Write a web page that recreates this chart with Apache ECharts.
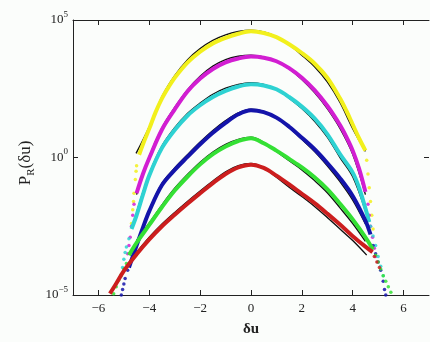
<!DOCTYPE html>
<html>
<head>
<meta charset="utf-8">
<script src="https://cdn.jsdelivr.net/npm/echarts@6/dist/echarts.min.js"></script>
<style>
html,body{margin:0;padding:0;background:#fbfdfb;}
#c{width:430px;height:342px;}
</style>
</head>
<body>
<div id="c"></div>
<script>
// x positions / tick labels
const xTicks = [-6, -4, -2, 0, 2, 4, 6];
const yTicks = [1e-5, 1, 1e5];

// Each curve: [δu, log10 P_R(δu)]
const yellowLine = [[-4.4,0.1],[-4.2,0.6],[-4,1.05],[-3.75,1.65],[-3.5,2.15],[-3.25,2.55],[-3,2.9],[-2.5,3.45],[-2,3.85],[-1.5,4.15],[-1,4.35],[-0.5,4.5],[0,4.59],[0.5,4.53],[1,4.38],[1.5,4.12],[2,3.8],[2.5,3.42],[3,2.9],[3.5,2.15],[3.75,1.7],[4,1.2],[4.25,0.7],[4.5,0.25]];
const magentaLine = [[-4.5,-1.3],[-4.25,-0.6],[-4,-0.02],[-3.5,1.02],[-3,1.75],[-2.5,2.4],[-2,2.87],[-1.5,3.22],[-1,3.46],[-0.5,3.6],[0,3.67],[0.5,3.63],[1,3.5],[1.5,3.25],[2,2.9],[2.5,2.45],[3,1.88],[3.5,1.18],[3.75,0.75],[4,0.25],[4.25,-0.4],[4.5,-1.25]];
const cyanLine = [[-4.7,-2.6],[-4.5,-2.1],[-4.25,-1.35],[-4,-0.65],[-3.5,0.35],[-3,1.0],[-2.5,1.52],[-2,1.9],[-1.5,2.2],[-1,2.42],[-0.5,2.58],[0,2.66],[0.5,2.62],[1,2.48],[1.5,2.2],[2,1.85],[2.5,1.42],[3,0.85],[3.5,0.12],[4,-0.55],[4.25,-1.1],[4.5,-1.85],[4.65,-2.35]];
const blueLine = [[-4.8,-4.0],[-4.5,-3.2],[-4.25,-2.55],[-4,-1.95],[-3.5,-1.0],[-3,-0.45],[-2.5,0.02],[-2,0.48],[-1.5,0.9],[-1,1.26],[-0.5,1.57],[0,1.72],[0.5,1.65],[1,1.45],[1.5,1.12],[2,0.72],[2.5,0.3],[3,-0.2],[3.5,-0.75],[4,-1.4],[4.5,-2.3],[4.7,-2.8]];
const greenLine = [[-4.8,-3.55],[-4.5,-3.1],[-4,-2.45],[-3.5,-1.8],[-3,-1.2],[-2.5,-0.7],[-2,-0.25],[-1.5,0.12],[-1,0.4],[-0.5,0.6],[0,0.7],[0.5,0.52],[1,0.25],[1.5,-0.05],[2,-0.36],[2.5,-0.72],[3,-1.15],[3.5,-1.68],[4,-2.25],[4.5,-2.9],[4.8,-3.35]];
const redLine = [[-5.55,-4.95],[-5.3,-4.58],[-5,-4.12],[-4.5,-3.52],[-4,-2.98],[-3.5,-2.5],[-3,-2.08],[-2.5,-1.68],[-2,-1.3],[-1.5,-0.93],[-1,-0.6],[-0.5,-0.36],[0,-0.26],[0.5,-0.38],[1,-0.66],[1.5,-0.98],[2,-1.32],[2.5,-1.66],[3,-2.04],[3.5,-2.44],[4,-2.86],[4.5,-3.24],[4.78,-3.44]];

// black fitted curves
const yellowFit = [[-4.52,0.15],[-4,1.12],[-3.5,2.22],[-3,2.98],[-2.5,3.55],[-2,3.96],[-1.5,4.26],[-1,4.46],[-0.5,4.58],[0,4.63],[0.5,4.57],[1,4.4],[1.5,4.1],[2,3.72],[2.5,3.3],[3,2.75],[3.5,2.0],[4,1.05],[4.5,0.22]];
const magentaFit = [[-4.5,-1.35],[-4,0.04],[-3.5,1.08],[-3,1.82],[-2.5,2.46],[-2,2.95],[-1.5,3.32],[-1,3.56],[-0.5,3.68],[0,3.72],[0.5,3.66],[1,3.5],[1.5,3.22],[2,2.84],[2.5,2.36],[3,1.78],[3.5,1.06],[4,0.12],[4.5,-1.35]];
const cyanFit = [[-4.5,-2.0],[-4,-0.6],[-3.5,0.42],[-3,1.08],[-2.5,1.6],[-2,1.98],[-1.5,2.3],[-1,2.52],[-0.5,2.66],[0,2.72],[0.5,2.66],[1,2.48],[1.5,2.16],[2,1.78],[2.5,1.32],[3,0.74],[3.5,0.0],[4,-0.7],[4.5,-1.95]];
const blueFit = [[-4.5,-3.15],[-4,-1.9],[-3.5,-0.94],[-3,-0.38],[-2.5,0.1],[-2,0.56],[-1.5,0.98],[-1,1.34],[-0.5,1.62],[0,1.76],[0.5,1.68],[1,1.44],[1.5,1.08],[2,0.66],[2.5,0.22],[3,-0.3],[3.5,-0.88],[4,-1.55],[4.5,-2.42]];
const greenFit = [[-4.5,-3.02],[-4,-2.38],[-3.5,-1.72],[-3,-1.12],[-2.5,-0.62],[-2,-0.17],[-1.5,0.2],[-1,0.48],[-0.5,0.66],[0,0.74],[0.5,0.55],[1,0.22],[1.5,-0.12],[2,-0.45],[2.5,-0.84],[3,-1.28],[3.5,-1.83],[4,-2.4],[4.5,-3.05]];
const redFit = [[-4.5,-3.45],[-4,-2.9],[-3.5,-2.42],[-3,-2.0],[-2.5,-1.6],[-2,-1.22],[-1.5,-0.86],[-1,-0.52],[-0.5,-0.3],[0,-0.22],[0.5,-0.38],[1,-0.72],[1.5,-1.08],[2,-1.42],[2.5,-1.78],[3,-2.18],[3.5,-2.6],[4,-3.02],[4.55,-3.55]];

// scattered tail points
const yellowTail = [[-4.5,-0.3],[-4.52,-0.5],[-4.55,-0.8],[-4.6,-1.3],[-4.62,-1.6],[-4.65,-1.9],[-4.7,-2.4],[4.55,-0.1],[4.6,-0.6],[4.65,-1.1],[4.7,-1.6],[4.75,-2.1],[4.8,-2.6]];
const magentaTail = [[-4.6,-1.7],[-4.65,-2.1],[-4.7,-2.5],[-4.75,-2.9],[-4.8,-3.2],[-4.85,-3.5],[4.6,-1.7],[4.65,-2.1],[4.7,-2.5],[4.78,-2.9],[4.85,-3.3],[4.9,-3.6]];
const cyanTail = [[-4.8,-2.95],[-4.9,-3.25],[-4.95,-3.45],[-5.0,-3.7],[-5.05,-4.0],[-5.1,-4.3],[4.7,-2.5],[4.8,-2.85],[4.9,-3.2],[5.0,-3.6],[5.1,-3.95],[5.2,-4.3]];
const blueTail = [[-4.85,-4.1],[-4.95,-4.4],[-5.0,-4.6],[-5.05,-4.8],[-5.1,-5.0],[4.8,-3.2],[4.9,-3.5],[5.0,-3.8],[5.1,-4.1],[5.2,-4.5],[5.25,-4.8],[5.3,-5.0]];
const greenTail = [[-4.9,-3.85],[-5.0,-4.05],[-5.1,-4.25],[-5.2,-4.45],[-5.3,-4.7],[-5.4,-4.95],[4.9,-3.55],[5.0,-3.8],[5.1,-4.05],[5.2,-4.3],[5.3,-4.5],[5.4,-4.7],[5.5,-4.9]];
const redTail = [[4.85,-3.6],[4.95,-3.8],[5.05,-4.0]];

const colors = {yellow:'#f2f01c', magenta:'#d21ed2', cyan:'#2ed2d2', blue:'#1414aa', green:'#34e034', red:'#cc1e1e'};

const toPts = arr => arr.map(p => [p[0], Math.pow(10, p[1])]);

const curves = [
  ['yellow', yellowLine, yellowFit, yellowTail],
  ['magenta', magentaLine, magentaFit, magentaTail],
  ['cyan', cyanLine, cyanFit, cyanTail],
  ['blue', blueLine, blueFit, blueTail],
  ['green', greenLine, greenFit, greenTail],
  ['red', redLine, redFit, redTail]
];

const series = [];
curves.forEach(([name, line, fit, tail]) => {
  series.push({type:'scatter', data: toPts(tail), symbolSize: 3.5, itemStyle:{color: colors[name], opacity: 0.85}, z: 2, silent: true});
  series.push({type:'line', data: toPts(fit), smooth: 0.35, showSymbol: false, lineStyle:{color:'#111', width:1.4}, z: 3, silent: true});
  series.push({type:'line', data: toPts(line), smooth: 0.35, showSymbol: false, lineStyle:{color: colors[name], width:4}, z: 4, silent: true});
});

const serif = '"Liberation Serif", "DejaVu Serif", serif';
const chart = echarts.init(document.getElementById('c'), null, {renderer:'canvas'});
chart.setOption({
  animation: false,
  backgroundColor: '#fbfdfb',
  grid: {left: 73, right: 1, top: 20, bottom: 38},
  xAxis: [
    {type:'value', min:-7, max:7, position:'bottom',
     axisLine:{onZero:false, lineStyle:{color:'#222', width:1}},
     axisTick:{inside:true, length:5, customValues: xTicks, lineStyle:{color:'#222'}},
     axisLabel:{customValues: xTicks, color:'#222', fontFamily: serif, fontSize: 13, margin: 7,
       formatter: v => (v < 0 ? '\u2212' + (-v) : '' + v)},
     splitLine:{show:false},
     name:'\u03b4u', nameLocation:'middle', nameGap: 27,
     nameTextStyle:{color:'#222', fontFamily: serif, fontSize: 15, fontWeight:'bold'}},
    {type:'value', min:-7, max:7, position:'top',
     axisLine:{onZero:false, lineStyle:{color:'#222', width:1}},
     axisTick:{inside:true, length:5, customValues: xTicks, lineStyle:{color:'#222'}},
     axisLabel:{show:false}, splitLine:{show:false}}
  ],
  yAxis: [
    {type:'log', logBase:10, min:1e-5, max:1e5, position:'left',
     axisLine:{show:true, onZero:false, lineStyle:{color:'#222', width:1}},
     axisTick:{inside:true, length:5, customValues: yTicks, lineStyle:{color:'#222'}},
     axisLabel:{customValues: yTicks, margin: 5,
       formatter: v => { const e = Math.round(Math.log10(v)); return '{b|10}{s|' + (e < 0 ? '\u2212' + (-e) : e) + '}'; },
       rich:{
         b:{fontFamily: serif, fontSize: 13, color:'#222', lineHeight: 20},
         s:{fontFamily: serif, fontSize: 9, color:'#222', lineHeight: 9, verticalAlign:'top'}
       }},
     splitLine:{show:false}, minorTick:{show:false}},
    {type:'log', logBase:10, min:1e-5, max:1e5, position:'right',
     axisLine:{show:false, onZero:false},
     axisTick:{inside:true, length:5, customValues: yTicks, lineStyle:{color:'#222'}},
     axisLabel:{show:false}, splitLine:{show:false}}
  ],
  graphic: [{
    type:'text', x: 26, y: 163, rotation: Math.PI/2,
    style:{
      text:'{p|P}{r|R}{p|(\u03b4u)}',
      align:'center', verticalAlign:'middle',
      rich:{
        p:{fontFamily: serif, fontSize: 17, fill:'#222', lineHeight: 22},
        r:{fontFamily: serif, fontSize: 11, fill:'#222', lineHeight: 11, verticalAlign:'bottom'}
      }
    }
  }],
  series: series
});
</script>
</body>
</html>
